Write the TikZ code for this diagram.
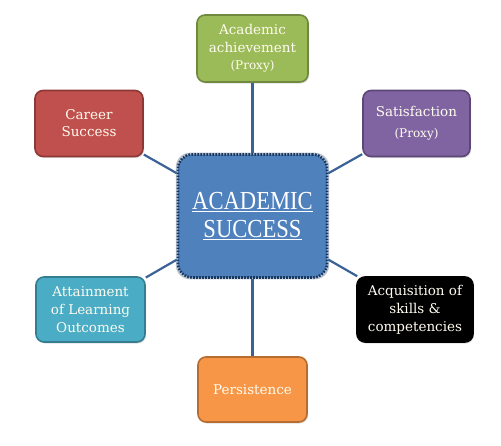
\documentclass[tikz,border=0pt]{standalone}
\usepackage{fontspec}
\usetikzlibrary{shadows}
\newfontfamily\boxfont{DejaVu Serif}
\newfontfamily\centfont[FakeStretch=0.87]{Liberation Serif}
\definecolor{grnF}{HTML}{9BBB59}\definecolor{grnD}{HTML}{71893F}
\definecolor{redF}{HTML}{C0504D}\definecolor{redD}{HTML}{8C3836}
\definecolor{purF}{HTML}{8064A2}\definecolor{purD}{HTML}{5C4776}
\definecolor{tealF}{HTML}{4BACC6}\definecolor{tealD}{HTML}{357D91}
\definecolor{orF}{HTML}{F79646}\definecolor{orD}{HTML}{B66D31}
\definecolor{cenF}{HTML}{4F81BD}\definecolor{cenD}{HTML}{17375E}
\definecolor{lineC}{HTML}{3A6296}
\definecolor{txt}{HTML}{FFFCF0}
\tikzset{
  leaf/.style={rectangle, rounded corners=8pt, line width=1.6pt, minimum width=108pt,
    minimum height=66pt, inner sep=2pt, align=center, text=txt,
    font=\boxfont\fontsize{13.5}{18}\selectfont,
    drop shadow={shadow xshift=1pt, shadow yshift=-1.5pt, opacity=0.25}}
}
\newcommand{\proxytxt}{{\boxfont\fontsize{12}{14}\selectfont(Proxy)}}
\begin{document}
\begin{tikzpicture}[x=1pt,y=-1pt]
\tikzset{conn/.style={draw=lineC, line width=2.2pt}}
\useasboundingbox (0,0) rectangle (501,445);
\node[leaf, fill=grnF, draw=grnD, minimum width=111pt, minimum height=67pt] (ach) at (252.5,48.5)
  {Academic\\achievement\\[-1pt]\proxytxt};
\node[leaf, fill=redF, draw=redD] (car) at (89,123.5) {Career\\[-1pt]Success};
\node[leaf, fill=purF, draw=purD, minimum width=107pt] (sat) at (416.5,123.5)
  {Satisfaction\\[3pt]\proxytxt};
\node[leaf, fill=tealF, draw=tealD, minimum width=109pt, minimum height=65pt] (att) at (90.5,309.5)
  {Attainment\\of Learning\\Outcomes};
\node[leaf, fill=black, draw=black, minimum width=116pt, minimum height=65pt] (acq) at (415,309.5)
  {Acquisition of\\skills \&\\competencies};
\node[leaf, fill=orF, draw=orD, minimum width=109pt, minimum height=65pt] (per) at (252.5,389.5)
  {Persistence};
\node[rectangle, rounded corners=14pt, fill=cenF, draw=cenD, line width=2.6pt,
  dash pattern=on 1.6pt off 1.4pt, minimum width=149pt, minimum height=123pt,
  align=center, text=white, font=\centfont\fontsize{26}{28}\selectfont,
  drop shadow={shadow xshift=0pt, shadow yshift=0pt, shadow scale=1.03, opacity=0.3, fill=cenD}]
  (cen) at (252.5,216) {\underline{ACADEMIC}\\\underline{SUCCESS}};
\draw[conn] (ach) -- (cen);
\draw[conn] (per) -- (cen);
\draw[conn] (car) -- (cen);
\draw[conn] (sat) -- (cen);
\draw[conn] (att) -- (cen);
\draw[conn] (acq) -- (cen);
\end{tikzpicture}
\end{document}
